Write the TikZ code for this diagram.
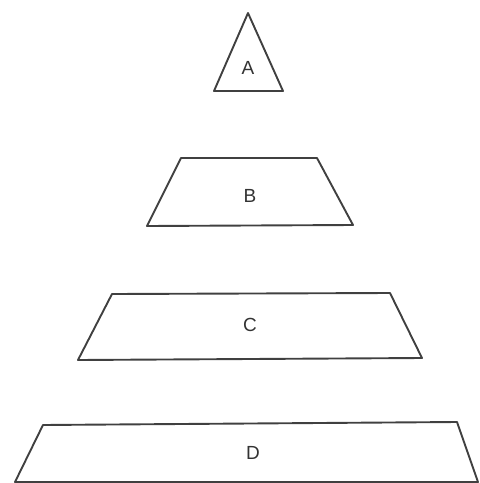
\documentclass[tikz,border=0pt]{standalone}
\usepackage{fontspec}
\setmainfont{Liberation Sans}
\usepackage{tikz}

\begin{document}
\begin{tikzpicture}[
    x=1pt, y=-1pt,
    layer/.style={draw=black!75, line width=1.9pt, line join=round},
    tag/.style={font=\fontsize{19}{21}\selectfont, text=black!80, inner sep=0pt}
]
\useasboundingbox (0,0) rectangle (480,483);

% top of the pile
\draw[layer] (248,13) -- (283,91) -- (214,91) -- cycle;
\node[tag] (a) at (248,68) {A};

% second level
\draw[layer] (181,158) -- (317,158) -- (353,225) -- (147,226) -- cycle;
\node[tag] (b) at (250,196) {B};

% third level
\draw[layer] (112,294) -- (390,293) -- (422,358) -- (78,360) -- cycle;
\node[tag] (c) at (250,325) {C};

% base
\draw[layer] (43,425) -- (457,422) -- (478,482) -- (15,482) -- cycle;
\node[tag] (d) at (253,453) {D};
\end{tikzpicture}
\end{document}
